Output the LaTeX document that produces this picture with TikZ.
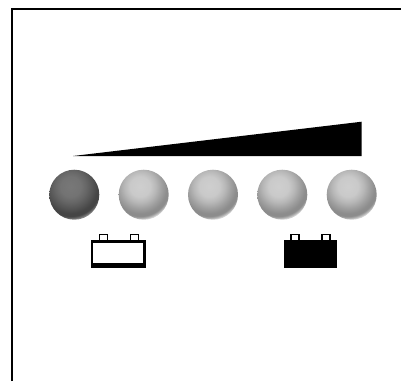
\documentclass[tikz,border=0pt]{standalone}
\usepackage{tikz}

\pgfdeclareradialshading{lamplit}{\pgfpoint{0bp}{0bp}}{
  color(0bp)=(black!19); color(7bp)=(black!21); color(11bp)=(black!28); color(15.3bp)=(black!38);
  color(18.7bp)=(black!45); color(20.5bp)=(black!45); color(21.5bp)=(black!36); color(22.9bp)=(black!15); color(24bp)=(black!22); color(50bp)=(black!22)}
\pgfdeclareradialshading{lampdark}{\pgfpoint{0bp}{0bp}}{
  color(0bp)=(black!53); color(7bp)=(black!55); color(11bp)=(black!60); color(15.3bp)=(black!67);
  color(18.7bp)=(black!73); color(20.5bp)=(black!73); color(21.5bp)=(black!65); color(22.9bp)=(black!45); color(24bp)=(black!50); color(50bp)=(black!50)}

\begin{document}
\begin{tikzpicture}[
  x=1pt, y=-1pt,
  lamp/.style={circle, minimum size=50pt, inner sep=0pt, path picture={
    \shade[shading=#1] ([xshift=-3.7pt, yshift=8.1pt]path picture bounding box.center) circle (36pt);}},
  lamp/.default=lamplit,
  frame line/.style={black, line width=2.4pt},
  cell/.style={draw=black, line width=2.4pt},
  post/.style={draw=black, line width=1.2pt, fill=white}
]
  \useasboundingbox (0, 0) rectangle (401, 381);

  % Frame, top and left only
  \draw[frame line] (12, 381) -- (12, 9) -- (401, 9);

  % Wedge
  \fill[black] (73, 156) -- (361.7, 121.7) -- (361.7, 156) -- cycle;

  % Lamps
  \node[lamp=lampdark] (lamp1) at (74.3, 194.7)  {};
  \node[lamp]          (lamp2) at (143.7, 194.7) {};
  \node[lamp]          (lamp3) at (213, 194.7)   {};
  \node[lamp]          (lamp4) at (282.3, 194.7) {};
  \node[lamp]          (lamp5) at (351.7, 194.7) {};

  % Empty battery
  \draw[post] (99.3, 234.6) rectangle (107.3, 240.5);
  \draw[post] (130.3, 234.6) rectangle (138.3, 240.5);
  \draw[cell, fill=white] (92.2, 241.5) rectangle (144.4, 267.2);
  \fill[black] (92.2, 262.7) rectangle (144.4, 268.3);

  % Full battery
  \draw[post] (291, 234.6) rectangle (299, 240.5);
  \draw[post] (322, 234.6) rectangle (330, 240.5);
  \fill[black] (283.7, 240.3) rectangle (337, 268.3);
\end{tikzpicture}
\end{document}
